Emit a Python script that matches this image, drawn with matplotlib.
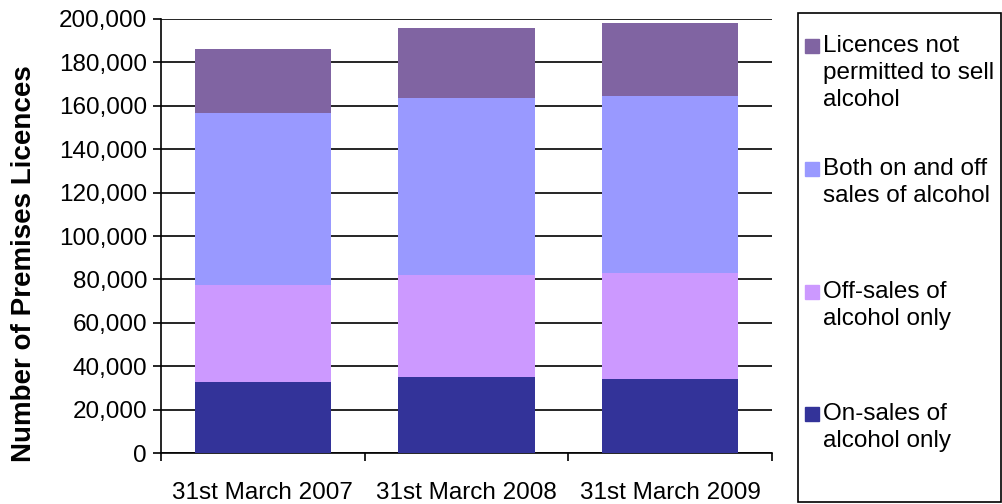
import matplotlib
matplotlib.use("Agg")
import matplotlib.pyplot as plt
from matplotlib.patches import Rectangle
from matplotlib.ticker import FuncFormatter
import numpy as np

plt.rcParams['font.family'] = ['Liberation Sans', 'DejaVu Sans']

# data
years = ['31st March 2007', '31st March 2008', '31st March 2009']
on_sales = [32700, 35000, 34100]
off_sales = [44600, 47000, 48700]
both_sales = [79400, 81700, 81700]
not_permitted = [29500, 32000, 33500]

series = [
    ('On-sales of\nalcohol only', on_sales, '#333399'),
    ('Off-sales of\nalcohol only', off_sales, '#CC99FF'),
    ('Both on and off\nsales of alcohol', both_sales, '#9999FF'),
    ('Licences not\npermitted to sell\nalcohol', not_permitted, '#8064A2'),
]

fs = 17.5
fig = plt.figure(figsize=(10.03, 5.04), dpi=100)
ax = fig.add_axes([161 / 1003, 51 / 504, 611 / 1003, 434 / 504])

x = np.arange(len(years))
bottom = np.zeros(len(years))
for name, vals, col in series:
    ax.bar(x, vals, width=0.67, bottom=bottom, color=col, zorder=3)
    bottom += np.array(vals)

ax.set_xlim(-0.5, 2.5)
ax.set_ylim(0, 200000)
ax.set_yticks(np.arange(0, 200001, 20000))
ax.yaxis.set_major_formatter(FuncFormatter(lambda v, p: f'{int(v):,}'))
ax.grid(axis='y', color='black', linewidth=1.2, zorder=0)

ax.set_xticks(x)
ax.set_xticklabels(years)
ax.set_xticks([-0.5, 0.5, 1.5, 2.5], minor=True)
ax.tick_params(axis='x', which='major', length=0, pad=21, labelsize=fs)
ax.tick_params(axis='x', which='minor', length=6, width=1.2, direction='out')
ax.tick_params(axis='y', length=6, width=1.2, direction='out', labelsize=fs, pad=4)

for s in ['top', 'right']:
    ax.spines[s].set_visible(False)
for s in ['left', 'bottom']:
    ax.spines[s].set_linewidth(1.2)

fig.text(24 / 1003, 1 - 264 / 504, 'Number of Premises Licences', rotation=90,
         ha='center', va='center', fontsize=20, fontweight='bold')

# legend box drawn by hand
fig.patches.append(Rectangle((798 / 1003, 2 / 504), 203 / 1003, 489 / 504,
                             transform=fig.transFigure, fill=False,
                             edgecolor='black', linewidth=1.2))
first_line_y = [415, 293, 170, 47]
for (name, vals, col), yy in zip(series, first_line_y):
    fig.patches.append(Rectangle((805 / 1003, 1 - (yy + 6) / 504), 14 / 1003, 14 / 504,
                                 transform=fig.transFigure, color=col))
    fig.text(823 / 1003, 1 - (yy - 12) / 504, name, ha='left', va='top',
             fontsize=fs, linespacing=1.28)

fig.savefig('out.png', dpi=100)
